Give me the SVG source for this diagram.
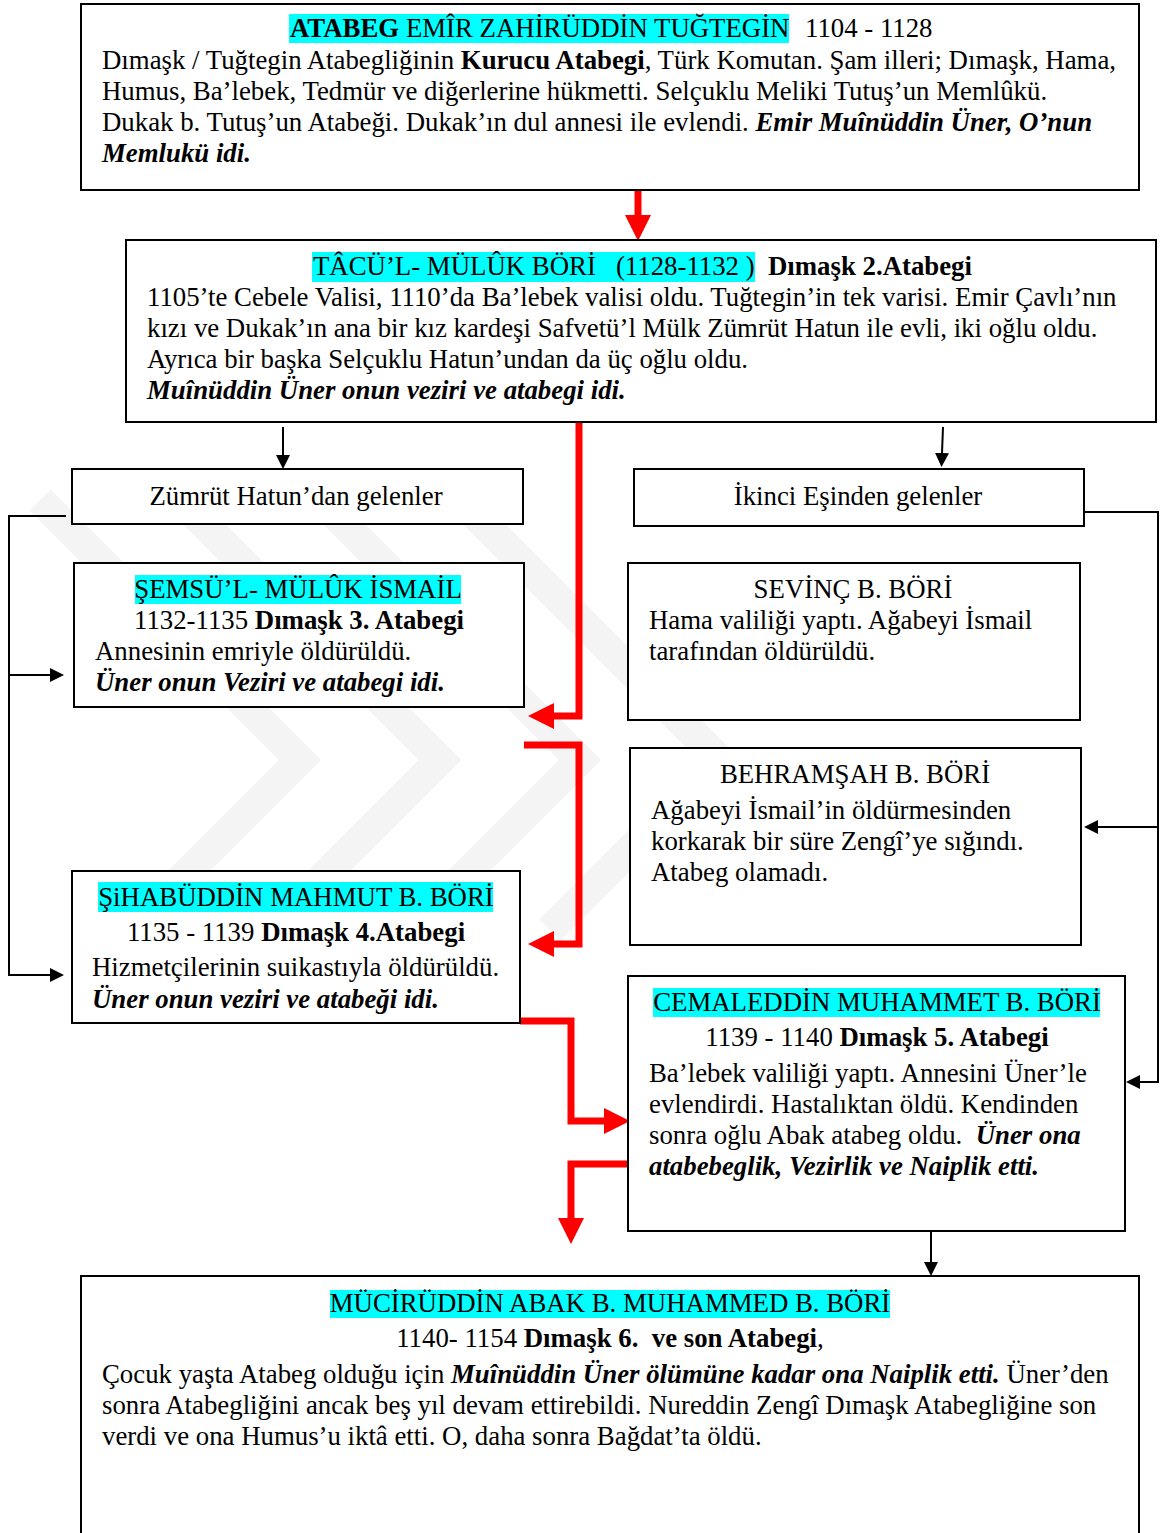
<svg xmlns="http://www.w3.org/2000/svg" width="1160" height="1533" viewBox="0 0 1160 1533">
<style>
text{font-family:"Liberation Serif","Times New Roman",serif;font-size:26.8px;fill:#000}
.c{text-anchor:middle}
.b{font-weight:bold}
.bi{font-weight:bold;font-style:italic}
.box{fill:#fff;stroke:#000;stroke-width:2}
.hl{fill:#00ffff}
.k{fill:none;stroke:#000;stroke-width:2}
.r{fill:none;stroke:#ff0000;stroke-width:7}
.wm{fill:none;stroke:#f4f4f4;stroke-width:30}
</style>
<defs>
<marker id="ah" markerUnits="userSpaceOnUse" markerWidth="14" markerHeight="14" refX="0" refY="7" orient="auto"><path d="M0,0 L14,7 L0,14 z" fill="#000"/></marker>
<marker id="rh" markerUnits="userSpaceOnUse" markerWidth="26" markerHeight="26" refX="0" refY="13" orient="auto"><path d="M0,0 L26,13 L0,26 z" fill="#ff0000"/></marker>
</defs>
<rect width="1160" height="1533" fill="#fff"/>
<g id="watermark">
<path class="wm" d="M40,500 L300,760 L130,930"/>
<path class="wm" d="M180,500 L440,760 L270,930"/>
<path class="wm" d="M320,500 L580,760 L410,930"/>
<path class="wm" d="M460,500 L720,760 L550,930"/>
</g>
<g id="connectors">
<path class="r" d="M638,191 V215" marker-end="url(#rh)"/>
<path class="r" d="M579,422 V716 H554" marker-end="url(#rh)"/>
<path class="r" d="M524,745 H579 V944 H554" marker-end="url(#rh)"/>
<path class="r" d="M520,1021 H571 V1121 H604" marker-end="url(#rh)"/>
<path class="r" d="M630,1164 H571 V1218" marker-end="url(#rh)"/>
<path class="k" d="M283,427 V455" marker-end="url(#ah)"/>
<path class="k" d="M943,427 L942,453" marker-end="url(#ah)"/>
<path class="k" d="M66,516 H9 V975 H50" marker-end="url(#ah)"/>
<path class="k" d="M9,675 H50" marker-end="url(#ah)"/>
<path class="k" d="M1084,512 H1158 V1082 H1140" marker-end="url(#ah)"/>
<path class="k" d="M1158,827 H1098" marker-end="url(#ah)"/>
<path class="k" d="M931,1231 V1262" marker-end="url(#ah)"/>
</g>
<g id="n1">
<rect class="box" x="81" y="4" width="1058" height="186"/>
<rect class="hl" x="289" y="14" width="500" height="29"/>
<text x="290" y="37"><tspan class="b">ATABEG</tspan> EMÎR ZAHİRÜDDİN TUĞTEGİN</text>
<text x="805" y="37">1104 - 1128</text>
<text x="102" y="69">Dımaşk / Tuğtegin Atabegliğinin <tspan class="b">Kurucu Atabegi</tspan>, Türk Komutan. Şam illeri; Dımaşk, Hama,</text>
<text x="102" y="100">Humus, Ba’lebek, Tedmür ve diğerlerine hükmetti. Selçuklu Meliki Tutuş’un Memlûkü.</text>
<text x="102" y="131">Dukak b. Tutuş’un Atabeği. Dukak’ın dul annesi ile evlendi. <tspan class="bi">Emir Muînüddin Üner, O’nun</tspan></text>
<text x="102" y="162" class="bi">Memlukü idi.</text>
</g>
<g id="n2">
<rect class="box" x="126" y="240" width="1030" height="182"/>
<rect class="hl" x="312" y="252" width="443" height="30"/>
<text x="313" y="275" xml:space="preserve">TÂCÜ’L- MÜLÛK BÖRİ   (1128-1132 )</text>
<text x="768" y="275" class="b">Dımaşk 2.Atabegi</text>
<text x="147" y="306">1105’te Cebele Valisi, 1110’da Ba’lebek valisi oldu. Tuğtegin’in tek varisi. Emir Çavlı’nın</text>
<text x="147" y="337">kızı ve Dukak’ın ana bir kız kardeşi Safvetü’l Mülk Zümrüt Hatun ile evli, iki oğlu oldu.</text>
<text x="147" y="368">Ayrıca bir başka Selçuklu Hatun’undan da üç oğlu oldu.</text>
<text x="147" y="399" class="bi">Muînüddin Üner onun veziri ve atabegi idi.</text>
</g>
<g id="n3">
<rect class="box" x="72" y="469" width="451" height="55"/>
<text x="296" y="505" class="c">Zümrüt Hatun’dan gelenler</text>
</g>
<g id="n4">
<rect class="box" x="634" y="469" width="450" height="57"/>
<text x="858" y="505" class="c">İkinci Eşinden gelenler</text>
</g>
<g id="n5">
<rect class="box" x="74" y="563" width="450" height="144"/>
<rect class="hl" x="135" y="575" width="326" height="29"/>
<text x="298" y="598" class="c">ŞEMSÜ’L- MÜLÛK İSMAİL</text>
<text x="299" y="629" class="c">1132-1135 <tspan class="b">Dımaşk 3. Atabegi</tspan></text>
<text x="95" y="660">Annesinin emriyle öldürüldü.</text>
<text x="95" y="691" class="bi">Üner onun Veziri ve atabegi idi.</text>
</g>
<g id="n6">
<rect class="box" x="628" y="563" width="452" height="157"/>
<text x="853" y="598" class="c">SEVİNÇ B. BÖRİ</text>
<text x="649" y="629">Hama valiliği yaptı. Ağabeyi İsmail</text>
<text x="649" y="660">tarafından öldürüldü.</text>
</g>
<g id="n7">
<rect class="box" x="630" y="748" width="451" height="197"/>
<text x="855" y="783" class="c">BEHRAMŞAH B. BÖRİ</text>
<text x="651" y="819">Ağabeyi İsmail’in öldürmesinden</text>
<text x="651" y="850">korkarak bir süre Zengî’ye sığındı.</text>
<text x="651" y="881">Atabeg olamadı.</text>
</g>
<g id="n8">
<rect class="box" x="72" y="871" width="448" height="152"/>
<rect class="hl" x="98" y="882" width="395" height="30"/>
<text x="296" y="906" class="c">ŞiHABÜDDİN MAHMUT B. BÖRİ</text>
<text x="296" y="941" class="c">1135 - 1139 <tspan class="b">Dımaşk 4.Atabegi</tspan></text>
<text x="92" y="976">Hizmetçilerinin suikastıyla öldürüldü.</text>
<text x="92" y="1008" class="bi">Üner onun veziri ve atabeği idi.</text>
</g>
<g id="n9">
<rect class="box" x="628" y="976" width="497" height="255"/>
<rect class="hl" x="653" y="988" width="447" height="29"/>
<text x="877" y="1011" class="c">CEMALEDDİN MUHAMMET B. BÖRİ</text>
<text x="877" y="1046" class="c">1139 - 1140 <tspan class="b">Dımaşk 5. Atabegi</tspan></text>
<text x="649" y="1082">Ba’lebek valiliği yaptı. Annesini Üner’le</text>
<text x="649" y="1113">evlendirdi. Hastalıktan öldü. Kendinden</text>
<text x="649" y="1144" xml:space="preserve">sonra oğlu Abak atabeg oldu.  <tspan class="bi">Üner ona</tspan></text>
<text x="649" y="1175" class="bi">atabebeglik, Vezirlik ve Naiplik etti.</text>
</g>
<g id="n10">
<rect class="box" x="81" y="1276" width="1058" height="270"/>
<rect class="hl" x="330" y="1290" width="560" height="28"/>
<text x="610" y="1312" class="c">MÜCİRÜDDİN ABAK B. MUHAMMED B. BÖRİ</text>
<text x="610" y="1347" class="c" xml:space="preserve">1140- 1154 <tspan class="b">Dımaşk 6.  ve son Atabegi</tspan>,</text>
<text x="102" y="1383">Çocuk yaşta Atabeg olduğu için <tspan class="bi">Muînüddin Üner ölümüne kadar ona Naiplik etti.</tspan> Üner’den</text>
<text x="102" y="1414">sonra Atabegliğini ancak beş yıl devam ettirebildi. Nureddin Zengî Dımaşk Atabegliğine son</text>
<text x="102" y="1445">verdi ve ona Humus’u iktâ etti. O, daha sonra Bağdat’ta öldü.</text>
</g>
</svg>
